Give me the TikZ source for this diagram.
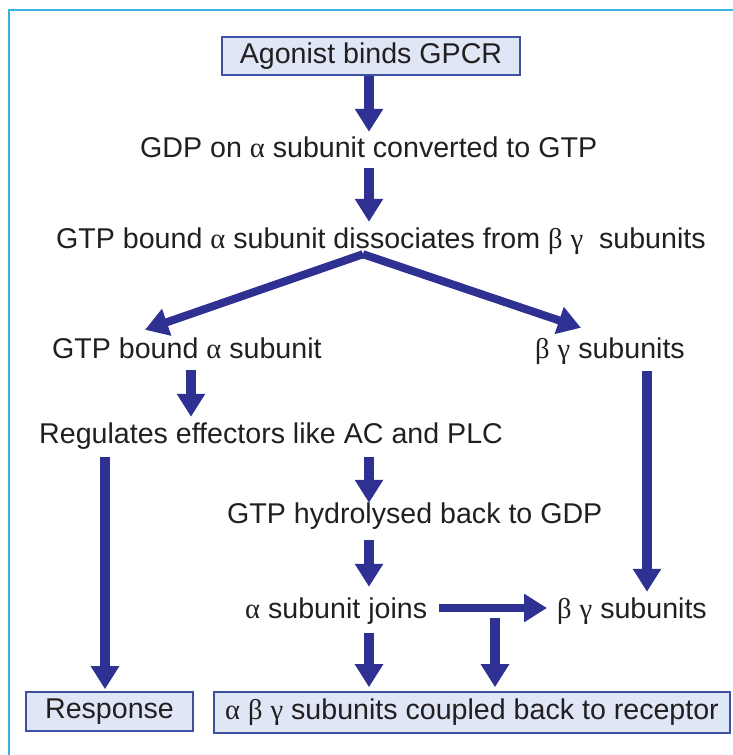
\documentclass[tikz,border=0pt]{standalone}
\usepackage{fontspec}
\setmainfont{Liberation Sans}
\newfontfamily\grkfont{Liberation Serif}
\usetikzlibrary{arrows.meta,calc}
\definecolor{arrowblue}{HTML}{2E3192}
\definecolor{boxfill}{HTML}{DFE7F6}
\definecolor{boxdraw}{HTML}{4050A0}
\definecolor{framecyan}{HTML}{3BB3E2}
\definecolor{inkcol}{HTML}{231F20}
\newcommand{\myalpha}{{\grkfont α}}
\newcommand{\mybeta}{{\grkfont β}}
\newcommand{\mygamma}{{\grkfont γ}}
\begin{document}
\begin{tikzpicture}[x=1pt,y=-1pt,
  txt/.style={inner sep=0pt, text height=20pt, text depth=6pt, anchor=base west,
    font=\fontsize{28.6}{33}\selectfont, text=inkcol},
  boxnode/.style={draw=boxdraw, fill=boxfill, line width=1.6pt, inner sep=0pt,
    text height=20pt, text depth=6pt, font=\fontsize{28.6}{33}\selectfont, text=inkcol},
  arr/.style={draw=arrowblue, line width=10pt, -{Triangle[length=23pt,width=27pt]}, arrowblue},
  arrthin/.style={draw=arrowblue, line width=8pt, -{Triangle[length=23pt,width=27pt]}, arrowblue}
]
\useasboundingbox (0,0) rectangle (733,755);
\draw[framecyan, line width=2pt] (9,755) -- (9,10) -- (733,10);

% named x positions for connectors
\coordinate (xM) at (369,0);
\coordinate (xS) at (363,0);
\coordinate (xL) at (145,0);
\coordinate (xR) at (581,0);
\coordinate (xA3) at (191,0);
\coordinate (xA4) at (105,0);
\coordinate (xA7) at (647,0);
\coordinate (xA10) at (495,0);

% nodes
\node[boxnode, minimum width=298pt, minimum height=38pt] (b1) at (371,56) {Agonist binds GPCR};
\node[txt] (t2) at (140,157) {GDP on \myalpha{} subunit converted to GTP};
\node[txt] (t3) at (56,248) {GTP bound \myalpha{} subunit dissociates from \mybeta{} \mygamma{}\ \ subunits};
\node[txt] (t4) at (52,358) {GTP bound \myalpha{} subunit};
\node[txt] (t5) at (535,358) {\mybeta{} \mygamma{} subunits};
\node[txt] (t6) at (39,443) {Regulates effectors like AC and PLC};
\node[txt] (t7) at (227,523) {GTP hydrolysed back to GDP};
\node[txt] (t8) at (245,618) {\myalpha{} subunit joins};
\node[txt] (t9) at (557,618) {\mybeta{} \mygamma{} subunits};
\node[boxnode, minimum width=167pt, minimum height=39pt] (resp) at (109.5,711.5) {Response};
\node[boxnode, minimum width=516pt, minimum height=41pt] (fin) at (472,712.5) {\myalpha{} \mybeta{} \mygamma{} subunits coupled back to receptor};

% connectors
\draw[arr, shorten >=5pt] (b1.south -| xM) -- (t2.north -| xM);
\draw[arr, shorten <=5pt, shorten >=6pt] (t2.south -| xM) -- (t3.north -| xM);
\draw[arrthin] (t3.south -| xS) -- ($(t4.north -| xL)+(0,-8)$);
\draw[arrthin] (t3.south -| xS) -- ($(t5.north -| xR)+(0,-10)$);
\draw[arr, shorten <=6pt, shorten >=6pt] (t4.south -| xA3) -- (t6.north -| xA3);
\draw[arr, shorten <=8pt, shorten >=2pt] (t6.south -| xA4) -- (resp.north -| xA4);
\draw[arr, shorten <=8pt] (t6.south -| xM) -- (t7.north -| xM);
\draw[arr, shorten <=11pt, shorten >=11pt] (t7.south -| xM) -- (t8.north -| xM);
\draw[arr, shorten <=7pt, shorten >=6pt] (t5.south -| xA7) -- (t9.north -| xA7);
\draw[arrthin, shorten <=12pt, shorten >=10pt] ($(t8.east)+(0,-3)$) coordinate (hs) -- ($(t9.west)+(0,-3)$);
\coordinate (jn) at (hs -| xA10);
\draw[arr, shorten <=10pt, shorten >=4pt] (jn) -- (fin.north -| xA10);
\draw[arr, shorten <=9pt, shorten >=4pt] (t8.south -| xM) -- (fin.north -| xM);
\end{tikzpicture}
\end{document}
